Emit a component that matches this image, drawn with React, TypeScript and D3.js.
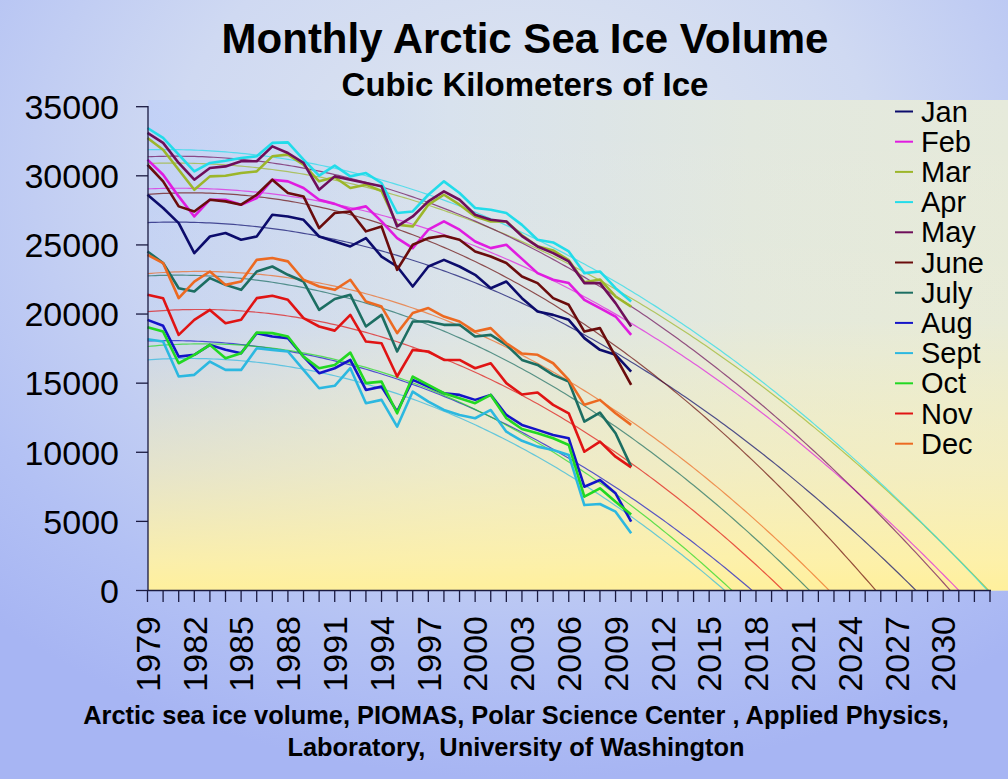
import React from "react";
import * as d3 from "d3";

const YEARS = d3.range(1979, 2011);
const MONTHS = ["Jan", "Feb", "Mar", "Apr", "May", "June", "July", "Aug", "Sept", "Oct", "Nov", "Dec"];
const COLORS = ["#0c0c6c", "#e01ce0", "#9cb62a", "#22dcea", "#6e0e5a", "#6a0c0c", "#1c6e62", "#1414c8", "#2cb8e0", "#22d822", "#e01414", "#ec6a22"];

const jan = [28630, 27670, 26580, 24410, 25610, 25860, 25370, 25610, 27180, 27060, 26820, 25610, 25250, 24890, 25490, 24160, 23440, 21990, 23440, 23920, 23440, 22840, 21870, 22350, 21150, 20180, 19940, 19580, 18260, 17410, 17050, 15840];
const feb = [31170, 30080, 28510, 27060, 28270, 28270, 27910, 28390, 29720, 29600, 29120, 28270, 27970, 27550, 27790, 26700, 25490, 24770, 26100, 26700, 26100, 25250, 24770, 25010, 23990, 22960, 22480, 22240, 21030, 20430, 19820, 18490];
const mar = [32740, 31890, 30440, 28990, 29960, 30010, 30200, 30320, 31410, 31530, 30800, 29600, 29900, 29120, 29360, 28900, 26460, 26340, 27910, 28630, 27910, 27060, 26700, 26700, 25700, 24900, 24600, 23900, 22300, 22500, 21270, 20540];
const apr = [33460, 32740, 31530, 30320, 30930, 31090, 31290, 31410, 32380, 32420, 31170, 30010, 30740, 29960, 30200, 29480, 27310, 27420, 28630, 29600, 28760, 27670, 27550, 27310, 26450, 25370, 25180, 24530, 22960, 23080, 21870, 20910];
const may = [33100, 32380, 30930, 29720, 30560, 30680, 31050, 31050, 32130, 31650, 30930, 28990, 29960, 29720, 29480, 29240, 26340, 27060, 28150, 28870, 28270, 27180, 26820, 26700, 25640, 24890, 24410, 23810, 22240, 22240, 20790, 19100];
const jun = [30800, 29600, 27790, 27420, 28270, 28150, 27910, 28630, 29720, 28760, 28510, 26220, 27310, 27420, 25980, 26340, 23200, 25010, 25490, 25660, 25370, 24530, 24160, 23690, 22720, 22240, 21150, 20670, 18730, 18980, 16920, 14870];
const jul = [24530, 23690, 21870, 21630, 22600, 22110, 21750, 23080, 23440, 22840, 22350, 20300, 21090, 21390, 19100, 19940, 17290, 19460, 19460, 19220, 19220, 18370, 18490, 17770, 16680, 16320, 15600, 15110, 12220, 12870, 11380, 8960];
const aug = [19580, 19150, 16920, 17050, 17770, 17410, 17170, 18620, 18370, 18260, 16920, 15720, 16080, 16680, 14510, 14750, 12940, 15240, 14750, 14270, 14150, 13790, 14150, 12700, 11980, 11620, 11250, 11010, 7510, 7990, 7030, 4980];
const sep = [18180, 18010, 15480, 15600, 16560, 15960, 15960, 17530, 17410, 17290, 15960, 14630, 14810, 16080, 13550, 13790, 11850, 14390, 13660, 13060, 12700, 12460, 13060, 11490, 10830, 10410, 10170, 9810, 6180, 6260, 5700, 4140];
const oct = [19050, 18730, 16440, 17050, 17770, 16800, 17170, 18660, 18620, 18370, 16920, 16080, 16320, 17210, 15000, 15110, 12820, 15480, 14870, 14270, 13910, 13550, 14150, 12460, 11680, 11380, 11010, 10530, 6790, 7390, 6420, 5500];
const nov = [21390, 21150, 18490, 19580, 20300, 19340, 19580, 21150, 21320, 21030, 19700, 19100, 18800, 19940, 18010, 17890, 15480, 17410, 17290, 16680, 16680, 16080, 16440, 15000, 14180, 14320, 13430, 12820, 10040, 10770, 9680, 8910];
const dec = [24290, 23690, 21150, 22350, 23080, 22110, 22350, 23920, 24050, 23810, 22480, 21990, 21750, 22480, 20910, 20540, 18620, 20070, 20430, 19820, 19460, 18730, 18980, 17890, 17140, 17050, 16440, 15240, 13430, 13790, 12820, 11980];

const SERIES = [jan, feb, mar, apr, may, jun, jul, aug, sep, oct, nov, dec];
const Y_TICKS = [0, 5000, 10000, 15000, 20000, 25000, 30000, 35000];
const X_LABELS = d3.range(1979, 2031, 3);
const X_TICKS = d3.range(1979, 2034, 1);

const FONT = "'Liberation Sans', Arial, sans-serif";

// least-squares quadratic fit (like a spreadsheet order-2 polynomial trendline)
function quadFit(xs: number[], ys: number[]) {
  const n = xs.length;
  const s = [0, 0, 0, 0, 0];
  const t = [0, 0, 0];
  for (let i = 0; i < n; i++) {
    const xv = xs[i];
    let p = 1;
    for (let k = 0; k < 5; k++) { s[k] += p; if (k < 3) t[k] += p * ys[i]; p *= xv; }
  }
  const A = [[s[0], s[1], s[2], t[0]], [s[1], s[2], s[3], t[1]], [s[2], s[3], s[4], t[2]]];
  for (let c = 0; c < 3; c++) {
    let piv = c;
    for (let r = c + 1; r < 3; r++) if (Math.abs(A[r][c]) > Math.abs(A[piv][c])) piv = r;
    [A[c], A[piv]] = [A[piv], A[c]];
    for (let r = 0; r < 3; r++) {
      if (r === c) continue;
      const f = A[r][c] / A[c][c];
      for (let k = c; k < 4; k++) A[r][k] -= f * A[c][k];
    }
  }
  const a0 = A[0][3] / A[0][0], a1 = A[1][3] / A[1][1], a2 = A[2][3] / A[2][2];
  return (xv: number) => a0 + a1 * xv + a2 * xv * xv;
}

export default function App() {
  const W = 1008, H = 779;
  const x = d3.scaleLinear().domain([1979, 2033]).range([147.5, 990]);
  const y = d3.scaleLinear().domain([0, 35000]).range([590.5, 106.7]);
  const line = d3.line<[number, number]>().x(d => x(d[0])).y(d => y(d[1])).curve(d3.curveLinear);
  const trendYears = d3.range(1979, 2033.01, 0.25);
  const xt = YEARS.map(v => v - 1978);

  return (
    <svg width={W} height={H} style={{ position: "absolute", left: 0, top: 0 }} xmlns="http://www.w3.org/2000/svg">
      <defs>
        <radialGradient id="bgOuter" cx="0.52" cy="0.22" r="0.78">
          <stop offset="0" stopColor="#e0e7ef" />
          <stop offset="0.45" stopColor="#cfd9f2" />
          <stop offset="0.8" stopColor="#b3c1f4" />
          <stop offset="1" stopColor="#a7b5f3" />
        </radialGradient>
        <linearGradient id="plotBase" x1="0" y1="0" x2="1" y2="0">
          <stop offset="0" stopColor="#c2d1f7" />
          <stop offset="0.35" stopColor="#d8e2ee" />
          <stop offset="0.7" stopColor="#e2e8e0" />
          <stop offset="1" stopColor="#e6eadb" />
        </linearGradient>
        <linearGradient id="plotYellow" x1="0" y1="0" x2="0" y2="1">
          <stop offset="0" stopColor="#fff4aa" stopOpacity="0" />
          <stop offset="0.45" stopColor="#fff4aa" stopOpacity="0.08" />
          <stop offset="0.75" stopColor="#fcf0af" stopOpacity="0.6" />
          <stop offset="0.94" stopColor="#fff1a5" stopOpacity="0.92" />
          <stop offset="1" stopColor="#fff09c" stopOpacity="1" />
        </linearGradient>
        <clipPath id="plotClip">
          <rect x={147.5} y={90} width={860} height={590.5 - 90} />
        </clipPath>
      </defs>

      <rect x={0} y={0} width={W} height={H} fill="url(#bgOuter)" />
      <rect x={148} y={100} width={W - 148} height={590.5 - 100} fill="url(#plotBase)" />
      <rect x={148} y={100} width={W - 148} height={590.5 - 100} fill="url(#plotYellow)" />

      {/* titles */}
      <text x={525} y={53} textAnchor="middle" fontFamily={FONT} fontWeight="bold" fontSize={42} fill="#000">Monthly Arctic Sea Ice Volume</text>
      <text x={525} y={96} textAnchor="middle" fontFamily={FONT} fontWeight="bold" fontSize={33} fill="#000">Cubic Kilometers of Ice</text>

      {/* trendlines */}
      <g clipPath="url(#plotClip)">
        {SERIES.map((s, i) => {
          const f = quadFit(xt, s);
          const pts: [number, number][] = trendYears.map(yr => [yr, f(yr - 1978)]);
          return <path key={"t" + i} d={line(pts) || ""} fill="none" stroke={COLORS[i]} strokeWidth={1.2} strokeOpacity={0.7} />;
        })}
      </g>

      {/* data lines */}
      <g>
        {SERIES.map((s, i) => {
          const pts: [number, number][] = YEARS.map((yr, k) => [yr, s[k]]);
          return <path key={"s" + i} d={line(pts) || ""} fill="none" stroke={COLORS[i]} strokeWidth={2.6} strokeLinejoin="round" />;
        })}
      </g>

      {/* axes */}
      <g stroke="#1a1a40" strokeWidth={1.3}>
        <line x1={148} y1={106} x2={148} y2={590.5} />
        <line x1={148} y1={590.5} x2={991} y2={590.5} />
        {Y_TICKS.map(t => <line key={"yt" + t} x1={136} x2={148} y1={y(t)} y2={y(t)} />)}
        {X_TICKS.map(t => <line key={"xt" + t} x1={x(t)} x2={x(t)} y1={590.5} y2={602} />)}
      </g>
      {Y_TICKS.map(t => (
        <text key={"yl" + t} x={119} y={y(t)} dy="0.36em" textAnchor="end" fontFamily={FONT} fontSize={34} fill="#000">{t}</text>
      ))}
      {X_LABELS.map(t => (
        <text key={"xl" + t} transform={`translate(${x(t)},616) rotate(-90)`} dy="0.36em" textAnchor="end" fontFamily={FONT} fontSize={34} fill="#000">{t}</text>
      ))}

      {/* caption */}
      <text x={516} y={724} textAnchor="middle" fontFamily={FONT} fontWeight="bold" fontSize={25.4} fill="#000" style={{ whiteSpace: "pre" }}>Arctic sea ice volume, PIOMAS, Polar Science Center , Applied Physics,</text>
      <text x={516} y={756} textAnchor="middle" fontFamily={FONT} fontWeight="bold" fontSize={25.4} fill="#000" style={{ whiteSpace: "pre" }}>Laboratory,  University of Washington</text>

      {/* legend */}
      {MONTHS.map((m, i) => {
        const by = 121.5 + i * 30.2;
        return (
          <g key={"lg" + m}>
            <line x1={895} x2={913} y1={by - 10} y2={by - 10} stroke={COLORS[i]} strokeWidth={2} />
            <text x={921} y={by} fontFamily={FONT} fontSize={29} fill="#000">{m}</text>
          </g>
        );
      })}
    </svg>
  );
}
